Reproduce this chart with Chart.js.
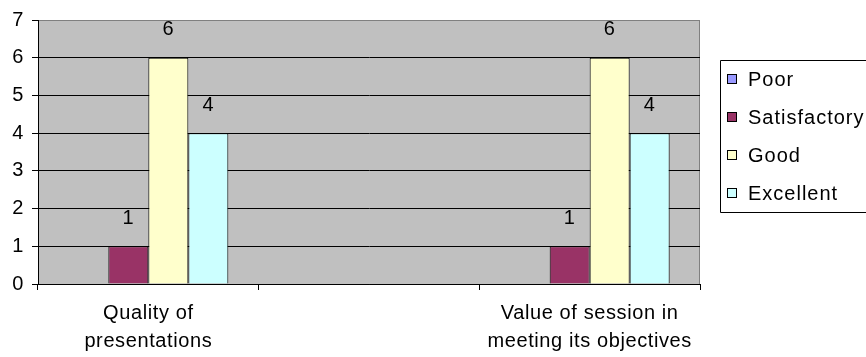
<!DOCTYPE html>
<html>
<head>
<meta charset="utf-8">
<script src="https://cdn.jsdelivr.net/npm/chart.js@4/dist/chart.umd.min.js"></script>
<style>
  html, body { margin: 0; padding: 0; background: #fff; overflow: hidden; }
  #wrap { width: 866px; height: 357px; }
</style>
</head>
<body>
<div id="wrap"><canvas id="surveyChart"></canvas></div>
<script>
    const categories = [['Quality of', 'presentations'], '', ['Value of session in', 'meeting its objectives']];
    const seriesNames = ['Poor', 'Satisfactory', 'Good', 'Excellent'];
    const poor = [0, null, 0];
    const satisfactory = [1, null, 1];
    const good = [6, null, 6];
    const excellent = [4, null, 4];
    const yTicks = [0, 1, 2, 3, 4, 5, 6, 7];
    const colors = ['#9999FF', '#993366', '#FFFFCC', '#CCFFFF'];

    const FONT = 'Arial, "Liberation Sans", sans-serif';

    // grey plot area with the thin outer frame, drawn under the grid
    const plotBackground = {
      id: 'plotBackground',
      beforeDraw(chart) {
        const { ctx, chartArea: a } = chart;
        // slightly looser text for everything the chart draws afterwards
        ctx.letterSpacing = '0.6px';
        ctx.save();
        ctx.fillStyle = '#C0C0C0';
        ctx.fillRect(a.left, a.top, a.right - a.left, a.bottom - a.top);
        ctx.strokeStyle = '#808080';
        ctx.lineWidth = 1;
        ctx.strokeRect(a.left + 0.5, a.top + 0.5, a.right - a.left - 1, a.bottom - a.top);
        ctx.restore();
      },
    };

    // value labels above each non-zero bar
    const valueLabels = {
      id: 'valueLabels',
      afterDatasetsDraw(chart) {
        const { ctx } = chart;
        ctx.save();
        ctx.font = '20px ' + FONT;
        ctx.fillStyle = '#000';
        ctx.textAlign = 'center';
        ctx.textBaseline = 'middle';
        chart.data.datasets.forEach((ds, i) => {
          chart.getDatasetMeta(i).data.forEach((bar, j) => {
            const v = ds.data[j];
            if (v) ctx.fillText(String(v), bar.x, bar.y - 28);
          });
        });
        ctx.restore();
      },
    };

    // boxed legend on the right, open on the side that runs off the canvas
    const boxLegend = {
      id: 'boxLegend',
      afterDraw(chart) {
        const { ctx, width } = chart;
        ctx.save();
        ctx.strokeStyle = '#000';
        ctx.lineWidth = 1;
        ctx.beginPath();
        ctx.moveTo(width, 60.5);
        ctx.lineTo(720.5, 60.5);
        ctx.lineTo(720.5, 212.5);
        ctx.lineTo(width, 212.5);
        ctx.stroke();
        ctx.font = '20px ' + FONT;
        ctx.letterSpacing = '1px';
        ctx.textBaseline = 'middle';
        chart.data.datasets.forEach((ds, i) => {
          const y = 79 + i * 38;
          ctx.fillStyle = ds.backgroundColor;
          ctx.fillRect(727.5, y - 4.5, 9, 9);
          ctx.strokeRect(727.5, y - 4.5, 9, 9);
          ctx.fillStyle = '#000';
          ctx.fillText(ds.label, 748, y + 1);
        });
        ctx.restore();
      },
    };

    const seriesData = [poor, satisfactory, good, excellent];

    const ctx = document.getElementById('surveyChart').getContext('2d');
    const surveyChart = new Chart(ctx, {
      type: 'bar',
      data: {
        labels: categories,
        datasets: seriesNames.map((name, i) => ({
          label: name,
          data: seriesData[i],
          backgroundColor: colors[i],
          borderColor: '#000',
          borderWidth: 1,
          categoryPercentage: 0.725,
          barPercentage: 1,
        })),
      },
      plugins: [plotBackground, valueLabels, boxLegend],
      options: {
        responsive: true,
        maintainAspectRatio: false,
        animation: false,
        layout: {
          padding: { top: 20, right: 166, left: 0, bottom: 0 },
        },
        plugins: {
          legend: { display: false },
          tooltip: { enabled: false },
        },
        scales: {
          y: {
            min: 0,
            max: 7,
            afterFit(scale) { scale.width = 38; },
            afterBuildTicks(scale) { scale.ticks = yTicks.map(v => ({ value: v })); },
            ticks: {
              color: '#000',
              padding: 8,
              font: { family: FONT, size: 20 },
            },
            grid: {
              color: ctx => (ctx.tick && ctx.tick.value === 7 ? '#808080' : '#000'),
              lineWidth: 1,
              tickLength: 6,
              tickColor: '#000',
            },
            border: { color: '#000', width: 1 },
          },
          x: {
            afterFit(scale) { scale.height = 73; },
            ticks: {
              color: '#000',
              padding: 9,
              maxRotation: 0,
              autoSkip: false,
              font: { family: FONT, size: 20, lineHeight: 1.4 },
            },
            grid: {
              drawOnChartArea: false,
              tickLength: 6,
              tickColor: '#000',
            },
            border: { color: '#000', width: 1 },
          },
        },
      },
    });
</script>
</body>
</html>
